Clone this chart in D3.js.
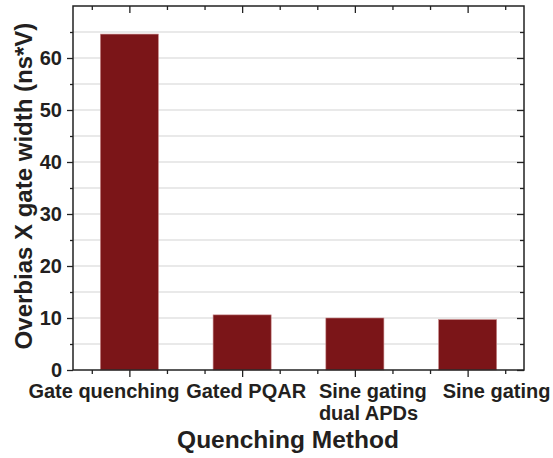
<!DOCTYPE html>
<html>
<head>
<meta charset="utf-8">
<script src="https://cdn.jsdelivr.net/npm/d3@7"></script>
<style>
  html, body { margin: 0; padding: 0; background: #fff; }
  svg { display: block; font-family: "Liberation Sans", Arial, sans-serif; }
</style>
</head>
<body>
<svg id="chart" width="553" height="458"></svg>
<script>
// Quenching methods and their overbias × gate-width product
const methods = [["Gate quenching"], ["Gated PQAR"], ["Sine gating", "dual APDs"], ["Sine gating"]];
const products = [64.6, 10.6, 10.0, 9.7];
const yTicks = [0, 10, 20, 30, 40, 50, 60];
const yMinorTicks = [5, 15, 25, 35, 45, 55, 65];

const W = 553, H = 458;
const margin = { left: 73, right: 29, top: 6, bottom: 88 };
const x0 = margin.left, x1 = W - margin.right;
const y0 = H - margin.bottom, y1 = margin.top;

// Left edge of each category label, relative to its tick
const labelShift = [-101, -56, -36, -25];

const svg = d3.select("#chart");

// Categories sit at positions 1..n on a linear axis
const x = d3.scaleLinear().domain([0.5, methods.length + 0.5]).range([x0, x1]);
const y = d3.scaleLinear().domain([0, 70]).range([y0, y1]);

const pos = methods.map((_, i) => i + 1);
const xMinor = [];
for (let i = 0; i <= methods.length; i++) {
  [1 / 6, 1 / 2, 5 / 6].forEach(f => {
    const v = 0.5 + i + f;
    if (v < methods.length + 0.5 && Math.abs(v - Math.round(v)) > 1e-6) xMinor.push(v);
  });
}

// Horizontal gridlines at major and minor steps
svg.append("g")
  .selectAll("line")
  .data(yTicks.concat(yMinorTicks).filter(v => v > 0))
  .join("line")
  .attr("x1", x0).attr("x2", x1)
  .attr("y1", d => y(d)).attr("y2", d => y(d))
  .attr("stroke", "#e2e2e2").attr("stroke-width", 1.5);

// Bars
const barW = (x(1) - x(0)) * 0.515;
svg.append("g")
  .selectAll("rect")
  .data(products)
  .join("rect")
  .attr("x", (d, i) => x(pos[i]) - barW / 2)
  .attr("width", barW)
  .attr("y", d => y(d))
  .attr("height", d => y(0) - y(d))
  .attr("fill", "#7b1518")
  .attr("stroke", "#c98a8c")
  .attr("stroke-width", 0.6);

const axisColor = "#222";
function styleAxis(g) {
  g.select(".domain").remove();
  g.selectAll(".tick line").attr("stroke", axisColor).attr("stroke-width", 1.3);
  g.selectAll(".tick text")
    .attr("fill", "#231f20")
    .style("font-size", "20px")
    .style("font-weight", "bold");
}

// Left axis: outward ticks with labels
svg.append("g").attr("transform", `translate(${x0},0)`)
  .call(d3.axisLeft(y).tickValues(yTicks).tickSize(6).tickPadding(5).tickFormat(d3.format("d")))
  .call(styleAxis);
svg.append("g").attr("transform", `translate(${x0},0)`)
  .call(d3.axisLeft(y).tickValues(yMinorTicks).tickSize(3).tickFormat(""))
  .call(styleAxis);

// Right axis: inward ticks
svg.append("g").attr("transform", `translate(${x1},0)`)
  .call(d3.axisLeft(y).tickValues(yTicks).tickSize(7).tickFormat(""))
  .call(styleAxis);
svg.append("g").attr("transform", `translate(${x1},0)`)
  .call(d3.axisLeft(y).tickValues(yMinorTicks).tickSize(4).tickFormat(""))
  .call(styleAxis);

// Bottom axis: outward ticks
svg.append("g").attr("transform", `translate(0,${y0})`)
  .call(d3.axisBottom(x).tickValues(pos).tickSize(7).tickFormat(""))
  .call(styleAxis);
svg.append("g").attr("transform", `translate(0,${y0})`)
  .call(d3.axisBottom(x).tickValues(xMinor).tickSize(4).tickFormat(""))
  .call(styleAxis);

// Top axis: inward ticks
svg.append("g").attr("transform", `translate(0,${y1})`)
  .call(d3.axisBottom(x).tickValues(pos).tickSize(7).tickFormat(""))
  .call(styleAxis);
svg.append("g").attr("transform", `translate(0,${y1})`)
  .call(d3.axisBottom(x).tickValues(xMinor).tickSize(4).tickFormat(""))
  .call(styleAxis);

// Plot frame
svg.append("rect")
  .attr("x", x0).attr("y", y1)
  .attr("width", x1 - x0).attr("height", y0 - y1)
  .attr("fill", "none").attr("stroke", axisColor).attr("stroke-width", 1.5);

// Category labels, possibly on two lines
const labels = svg.append("g")
  .selectAll("text")
  .data(methods)
  .join("text")
  .attr("x", (d, i) => x(pos[i]) + labelShift[i])
  .attr("y", y0 + 28)
  .attr("text-anchor", "start")
  .attr("fill", "#231f20")
  .style("font-size", "20px")
  .style("font-weight", "bold");
labels.selectAll("tspan")
  .data(d => d)
  .join("tspan")
  .attr("x", function () { return this.parentNode.getAttribute("x"); })
  .attr("dy", (d, i) => i === 0 ? 0 : 22)
  .text(d => d);

// Axis titles
svg.append("text")
  .attr("x", 288)
  .attr("y", 448)
  .attr("text-anchor", "middle")
  .attr("fill", "#231f20")
  .style("font-size", "24.5px")
  .style("font-weight", "bold")
  .text("Quenching Method");

svg.append("text")
  .attr("transform", `translate(32,${(y0 + y1) / 2 - 2}) rotate(-90)`)
  .attr("text-anchor", "middle")
  .attr("fill", "#231f20")
  .style("font-size", "24px")
  .style("font-weight", "bold")
  .text("Overbias X gate width (ns*V)");
</script>
</body>
</html>
